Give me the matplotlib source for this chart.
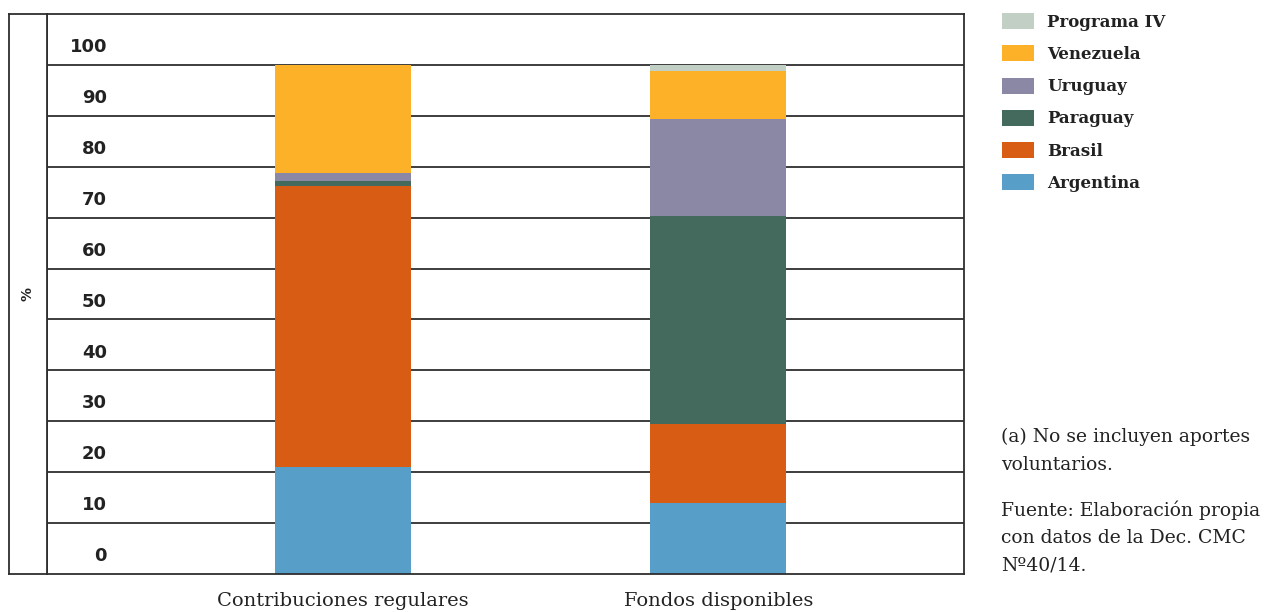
import matplotlib
matplotlib.use("Agg")
import matplotlib.pyplot as plt
from matplotlib.patches import Rectangle

# Data (% of total)
categories = ["Contribuciones regulares", "Fondos disponibles"]
series_names = ["Argentina", "Brasil", "Paraguay", "Uruguay", "Venezuela", "Programa IV"]
argentina = [21.0, 13.9]
brasil = [55.3, 15.6]
paraguay = [0.9, 40.8]
uruguay = [1.6, 19.0]
venezuela = [21.2, 9.5]
programa_iv = [0.0, 1.2]
y_ticks = [0, 10, 20, 30, 40, 50, 60, 70, 80, 90, 100]

series_values = [argentina, brasil, paraguay, uruguay, venezuela, programa_iv]
colors = ["#579ec9", "#d95c15", "#44695d", "#8b88a5", "#fdb128", "#c2cfc5"]

W, H = 1274, 612
fig = plt.figure(figsize=(W / 100, H / 100), dpi=100)

line_col = "#2e2e2e"
lw = 1.3
text_col = "#222222"

# Main plotting area
x0, x1, ytop, ybot = 47, 964, 14, 574
ax = fig.add_axes([x0 / W, 1 - ybot / H, (x1 - x0) / W, (ybot - ytop) / H])
ax.set_ylim(0, 110)
ax.set_xlim(-0.789, 1.655)
for s in ax.spines.values():
    s.set_color(line_col)
    s.set_linewidth(lw)
ax.set_xticks([])
ax.set_yticks([])

# Horizontal rules
for v in y_ticks[1:]:
    ax.axhline(v, color=line_col, lw=lw, zorder=1)

# Stacked bars
xs = list(range(len(categories)))
bottom = [0.0] * len(categories)
for name, vals, col in zip(series_names, series_values, colors):
    ax.bar(xs, vals, bottom=bottom, width=0.363, color=col, zorder=2,
           linewidth=0)
    bottom = [b + v for b, v in zip(bottom, vals)]

# Value labels sit in the row above each rule
for v in y_ticks:
    ax.text(-0.629, v + 3.5, str(v), ha="right", va="center",
            fontsize=13, fontweight="bold", color=text_col,
            family="DejaVu Sans")

# Category labels
for x, c in zip(xs, categories):
    ax.text(x, -5.3, c, ha="center", va="center", fontsize=14,
            family="DejaVu Serif", color=text_col, clip_on=False)

# Left strip holding the axis unit
ax_l = fig.add_axes([9 / W, 1 - ybot / H, (x0 - 9) / W, (ybot - ytop) / H])
ax_l.set_xticks([])
ax_l.set_yticks([])
for s in ax_l.spines.values():
    s.set_color(line_col)
    s.set_linewidth(lw)
ax_l.text(0.5, (ybot - 294) / (ybot - ytop), "%", rotation=90, ha="center",
          va="center", fontsize=10, fontweight="bold", color=text_col,
          transform=ax_l.transAxes)

# Legend, top entry = last series
leg_y = [21.3, 53.3, 85.7, 117.7, 150.0, 182.0]
for (name, col), yy in zip(list(zip(series_names, colors))[::-1], leg_y):
    fig.add_artist(Rectangle((1002 / W, 1 - (yy + 8) / H), 32 / W, 16 / H,
                             transform=fig.transFigure, facecolor=col,
                             edgecolor="none"))
    fig.text(1047 / W, 1 - (yy + 1) / H, name, ha="left", va="center",
             fontsize=12, fontweight="bold", family="DejaVu Serif",
             color=text_col)

# Notes
notes = [("(a) No se incluyen aportes", 437), ("voluntarios.", 465),
         ("Fuente: Elaboración propia", 510), ("con datos de la Dec. CMC", 538),
         ("Nº40/14.", 566)]
for txt, yy in notes:
    fig.text(1001 / W, 1 - yy / H, txt, ha="left", va="center",
             fontsize=13.5, family="DejaVu Serif", color=text_col)

fig.savefig("out.png", dpi=100, facecolor="white")
